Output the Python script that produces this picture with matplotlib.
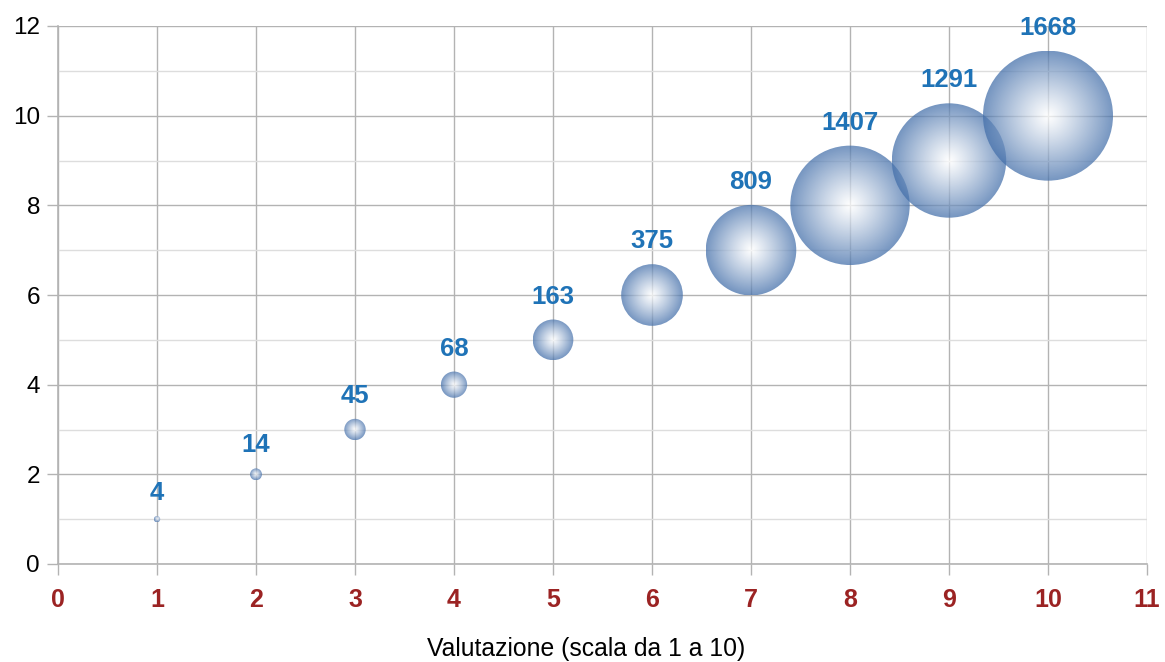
import numpy as np
import matplotlib
matplotlib.use("Agg")
import matplotlib.pyplot as plt
from matplotlib.patches import Ellipse

plt.rcParams['font.family'] = ['Liberation Sans', 'DejaVu Sans']

# data
x_vals = [1, 2, 3, 4, 5, 6, 7, 8, 9, 10]
y_vals = [1, 2, 3, 4, 5, 6, 7, 8, 9, 10]
sizes = [4, 14, 45, 68, 163, 375, 809, 1407, 1291, 1668]
x_ticks = list(range(0, 12))
y_ticks = list(range(0, 13, 2))

W, H, DPI = 1165, 662, 100
fig = plt.figure(figsize=(W / DPI, H / DPI), dpi=DPI)
L, R, T, B = 58, 1147, 26, 564
ax = fig.add_axes([L / W, 1 - B / H, (R - L) / W, (B - T) / H])
ax.set_xlim(0, 11)
ax.set_ylim(0, 12)

px_x = (R - L) / 11.0
px_y = (B - T) / 12.0
max_r = 65.0  # pixel radius of the largest bubble

# radial gradient image: white centre -> steel blue rim
n = 200
gx, gy = np.meshgrid(np.linspace(-1, 1, n), np.linspace(-1, 1, n))
d = np.clip(np.sqrt(gx ** 2 + gy ** 2), 0, 1)
edge = np.array([0.27, 0.44, 0.67])
white = np.array([1.0, 1.0, 1.0])
t = d ** 1.1
img = np.zeros((n, n, 4))
for c in range(3):
    img[..., c] = white[c] * (1 - t) + edge[c] * t
img[..., 3] = 0.74

for xv, yv, s in zip(x_vals, y_vals, sizes):
    r = max_r * np.sqrt(s / max(sizes))
    rx, ry = r / px_x, r / px_y
    el = Ellipse((xv, yv), 2 * rx, 2 * ry, facecolor='none', edgecolor='none')
    ax.add_patch(el)
    im = ax.imshow(img, extent=[xv - rx, xv + rx, yv - ry, yv + ry],
                   interpolation='bilinear', zorder=3, aspect='auto')
    im.set_clip_path(el)
    ax.annotate(str(s), (xv, yv), xytext=(0, r + 23), textcoords='offset pixels',
                ha='center', va='center', fontsize=18.5, fontweight='bold',
                color='#1f73b7', zorder=4)

ax.set_xlim(0, 11)
ax.set_ylim(0, 12)
ax.set_xticks(x_ticks)
ax.set_yticks(y_ticks)
ax.set_yticks(np.arange(1, 12, 2), minor=True)
ax.grid(True, which='major', color='#b3b3b3', linewidth=1)
ax.grid(True, which='minor', axis='y', color='#dddddd', linewidth=1)
ax.set_axisbelow(True)
ax.tick_params(axis='y', which='minor', length=0)
ax.tick_params(axis='both', which='major', color='#b3b3b3', length=8, width=1)
ax.tick_params(axis='x', labelsize=18, labelcolor='#9b2323', pad=9.5)
ax.tick_params(axis='y', labelsize=17.5, labelcolor='black', pad=5)
for lab in ax.get_xticklabels():
    lab.set_fontweight('bold')
for side in ['top', 'right']:
    ax.spines[side].set_visible(False)
for side in ['left', 'bottom']:
    ax.spines[side].set_color('#b3b3b3')
    ax.spines[side].set_linewidth(1.2)

ax.set_xlabel('Valutazione (scala da 1 a 10)', fontsize=17.8)
ax.xaxis.set_label_coords((586 - L) / (R - L), -(649 - B) / (B - T))
ax.xaxis.label.set_va('center')

fig.savefig('out.png', dpi=DPI)
